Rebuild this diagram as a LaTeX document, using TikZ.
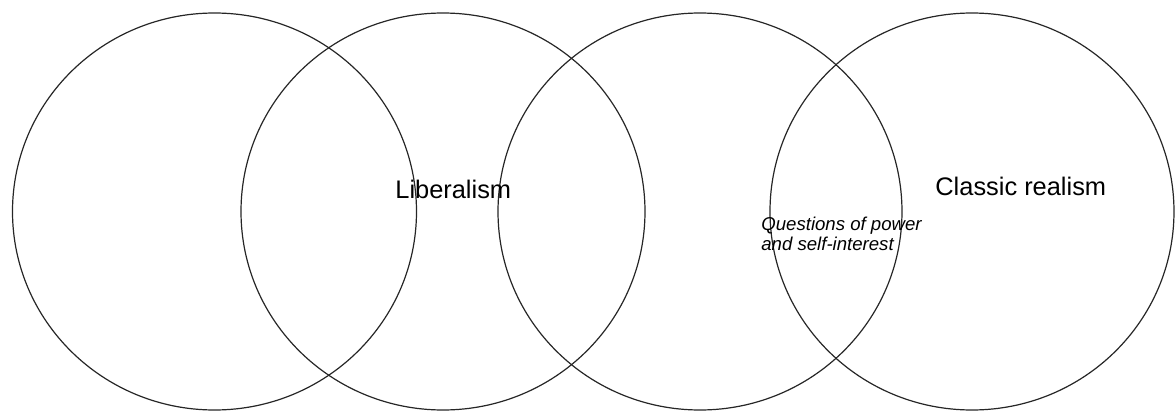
\documentclass[tikz,border=0pt]{standalone}
\usepackage{fontspec}
\setmainfont{Liberation Sans}
\usetikzlibrary{shapes.geometric}

\begin{document}
\begin{tikzpicture}[
  x=0.5pt,y=-0.5pt,
  ring/.style={ellipse,draw=black!85,line width=0.6pt,minimum width=202pt,minimum height=198.5pt,inner sep=0pt},
  big/.style={font=\fontsize{12.7}{15}\selectfont,inner sep=0pt,anchor=base west},
  note/.style={font=\fontsize{9.3}{8.5}\selectfont\itshape,inner sep=0pt,anchor=base west,align=left}
]
\useasboundingbox (0,0) rectangle (1175,412);
% four overlapping rings, left to right
\node[ring] (r1) at (214.5,211.5) {};
\node[ring] (r2) at (443,211.5) {};
\node[ring] (r3) at (700,211.5) {};
\node[ring] (r4) at (972,211.5) {};
% labels
\node[big]  (lib)   at (395,198) {Liberalism};
\node[big]  (real)  at (935,195) {Classic realism};
\node[note] (power) at (761,250) {Questions of power\\and self-interest};
\end{tikzpicture}
\end{document}
